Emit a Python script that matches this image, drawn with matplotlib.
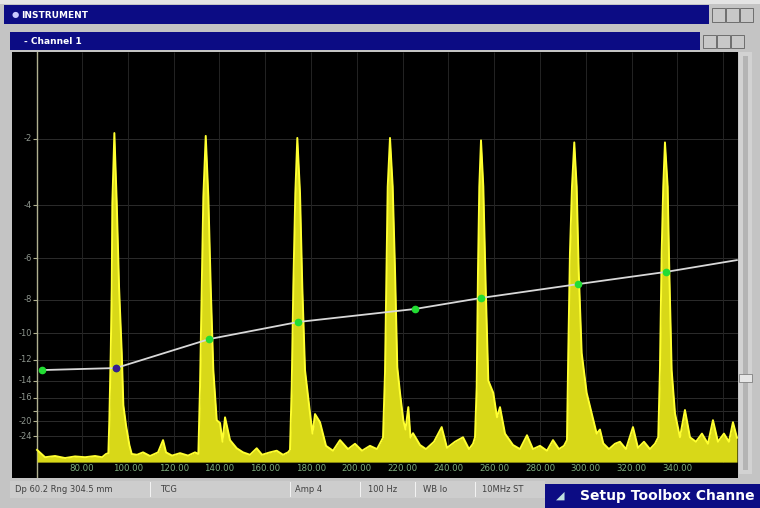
import matplotlib
matplotlib.use("Agg")
import matplotlib.pyplot as plt
from matplotlib.patches import Rectangle

# A-scan trace (depth, linear amplitude)
trace_x = [60.35, 63.84, 68.21, 72.58, 76.94, 81.31, 85.68, 88.73, 90.48,
           91.49, 91.92, 92.53, 92.97, 93.23, 94.11, 95.15, 96.16, 97.34, 98.04, 99.21, 100.66, 101.70,
           104.02, 106.64, 109.70, 113.19, 115.37, 116.68, 119.30, 122.80, 126.29, 129.35,
           130.79, 131.53, 132.27, 132.97, 134.02, 135.16, 136.20, 137.34, 138.82, 140.26, 141.36, 142.45, 144.63, 147.56,
           150.31, 153.37, 156.29, 158.61, 162.10, 165.03, 167.78, 169.96,
           170.83, 171.58, 172.27, 173.15, 174.02, 175.20, 176.20, 177.38, 179.57, 180.66, 181.75, 183.93,
           186.55, 189.61, 192.67, 196.16, 199.22, 202.28, 205.77, 208.83,
           211.45, 212.32, 213.06, 213.50, 214.50, 215.68, 216.69, 217.69, 218.87, 220.31, 221.27, 222.50, 223.46, 224.55, 227.61,
           230.23, 233.72, 237.08, 239.40, 242.89, 246.39, 249.01, 250.76,
           251.63, 252.37, 252.94, 253.51, 254.25, 255.26, 256.30, 257.44, 259.62, 261.24, 262.55, 264.73, 268.23,
           271.27, 274.33, 276.95, 280.01, 283.07, 285.69, 288.31, 290.49,
           291.80, 292.37, 293.11, 293.99, 294.99, 296.04, 296.91, 298.22, 300.40, 302.59, 304.77, 306.21, 307.66,
           310.14, 312.76, 314.94, 317.57, 320.62, 322.81, 325.43, 328.05, 330.23,
           331.67, 332.41, 333.16, 333.85, 334.60, 335.78, 336.48, 337.52, 338.97, 341.15, 343.33, 345.52,
           348.14, 350.76, 353.38, 355.56, 357.74, 360.36, 362.55, 364.30, 366.04]
trace_amp = [0.030, 0.012, 0.015, 0.010, 0.014, 0.012, 0.015, 0.012, 0.020,
             0.022, 0.103, 0.268, 0.430, 0.636, 0.808, 0.636, 0.430, 0.268, 0.140, 0.090, 0.042, 0.020,
             0.018, 0.024, 0.015, 0.024, 0.054, 0.024, 0.016, 0.022, 0.016, 0.024,
             0.020, 0.185, 0.430, 0.651, 0.801, 0.651, 0.430, 0.226, 0.103, 0.096, 0.050, 0.110, 0.054, 0.034,
             0.024, 0.018, 0.034, 0.018, 0.024, 0.028, 0.018, 0.024,
             0.030, 0.185, 0.430, 0.660, 0.796, 0.660, 0.430, 0.226, 0.120, 0.070, 0.118, 0.098,
             0.040, 0.028, 0.054, 0.032, 0.045, 0.028, 0.040, 0.032,
             0.060, 0.219, 0.514, 0.676, 0.796, 0.676, 0.472, 0.233, 0.170, 0.103, 0.080, 0.135, 0.060, 0.071, 0.042,
             0.032, 0.050, 0.086, 0.035, 0.050, 0.061, 0.032, 0.045,
             0.061, 0.185, 0.470, 0.676, 0.790, 0.676, 0.430, 0.200, 0.170, 0.110, 0.135, 0.070, 0.042,
             0.032, 0.066, 0.032, 0.040, 0.028, 0.054, 0.032, 0.040,
             0.054, 0.268, 0.514, 0.676, 0.785, 0.676, 0.472, 0.268, 0.170, 0.120, 0.070, 0.080, 0.046,
             0.032, 0.045, 0.050, 0.032, 0.086, 0.035, 0.050, 0.032, 0.045,
             0.061, 0.226, 0.514, 0.676, 0.785, 0.676, 0.472, 0.226, 0.120, 0.061, 0.128, 0.061,
             0.050, 0.070, 0.045, 0.103, 0.050, 0.070, 0.050, 0.098, 0.060]

# TCG curve points
tcg_x = [62.5, 94.8, 135.5, 174.3, 225.4, 254.2, 296.6, 335.0, 366.0]
tcg_amp = [0.226, 0.231, 0.302, 0.344, 0.376, 0.403, 0.437, 0.467, 0.496]

db_ticks = [-2, -4, -6, -8, -10, -12, -14, -16, -18, -20, -24]
db_labels = ["-2", "-4", "-6", "-8", "-10", "-12", "-14", "-16", "", "-20", "-24"]
depth_ticks = [80, 100, 120, 140, 160, 180, 200, 220, 240, 260, 280, 300, 320, 340]
depth_grid = depth_ticks + [360]

status_fields = ["Dp 60.2 Rng 304.5 mm", "TCG", "Amp 4", "100 Hz", "WB lo", "10MHz ST"]
status_pos = [15, 160, 295, 368, 423, 482]

W, H = 760, 508
NAVY = "#0c0c84"
fig = plt.figure(figsize=(7.6, 5.08), dpi=100, facecolor="#c4c4c4")


def box(x0, y0, x1, y1, color, ec="none", lw=0, z=0):
    fig.patches.append(Rectangle((x0 / W, 1 - y1 / H), (x1 - x0) / W, (y1 - y0) / H,
                                 transform=fig.transFigure, facecolor=color,
                                 edgecolor=ec, lw=lw, zorder=z))


def ftext(x, y, s, **kw):
    fig.text(x / W, 1 - y / H, s, va="center", **kw)


# window chrome
box(0, 0, 760, 4, "#e4e4e4")
box(4, 5, 709, 24, NAVY)
ftext(12, 15, "\u25cf", color="#c8c8ff", fontsize=6)
ftext(21, 15, "INSTRUMENT", color="white", fontsize=6.5, fontweight="bold")
for bx in [712, 726, 740]:
    box(bx, 8, bx + 13, 22, "#c8c8c8", ec="#606060", lw=0.6)
box(10, 32, 700, 50, NAVY)
ftext(24, 41, "- Channel 1", color="white", fontsize=6.5, fontweight="bold")
for bx in [703, 717, 731]:
    box(bx, 35, bx + 13, 48, "#c8c8c8", ec="#606060", lw=0.6)
box(739, 52, 752, 474, "#d2d2d2")
box(743, 56, 748, 470, "#b4b4b4")
box(739, 374, 752, 382, "#e6e6e6", ec="#808080", lw=0.6)
box(10, 481, 545, 498, "#cdcdcd")
for sx in [150, 290, 360, 415, 475]:
    box(sx, 482, sx + 1, 497, "#f2f2f2")
for s, sx in zip(status_fields, status_pos):
    ftext(sx, 489, s, color="#404040", fontsize=6)
box(545, 484, 760, 508, NAVY, z=3)
ftext(556, 496, "\u25e2", color="#c0e0e0", fontsize=8, zorder=4)
ftext(580, 496, "Setup Toolbox Channe", color="white", fontsize=10, fontweight="bold", zorder=4)

# scope panel
ax = fig.add_axes([12 / W, 1 - 478 / H, 726 / W, 426 / H])
ax.set_facecolor("black")
ax.set_xlim(49.4, 366.5)
ax.set_ylim(-0.039, 1.007)
ax.set_xticks([])
ax.set_yticks([])
for sp in ax.spines.values():
    sp.set_visible(False)

axis_x = 60.35
db_pos = [10 ** (d / 20) for d in db_ticks]
ax.hlines(db_pos, axis_x, 366.5, color="#2c2c2c", lw=0.7, zorder=1)
ax.vlines(depth_grid, 0, 1.007, color="#242424", lw=0.7, zorder=1)
ax.axvline(axis_x, color="#b0b090", lw=1.0, zorder=2)
ax.hlines(db_pos, axis_x - 1.6, axis_x, color="#b0b090", lw=0.8, zorder=2)
for p, lab in zip(db_pos, db_labels):
    ax.text(axis_x - 2.2, p, lab, ha="right", va="center", fontsize=6, color="#8e968e")
for d in depth_ticks:
    ax.text(d, -0.016, f"{d:.2f}", ha="center", va="center", fontsize=6.2, color="#7fae7f")

ax.fill_between(trace_x, 0, trace_amp, color="#d8d818", lw=0, zorder=3)
ax.plot(trace_x, trace_amp, color="#ffff30", lw=1.4, zorder=4)

ax.plot(tcg_x, tcg_amp, color="#d8d8d8", lw=1.3, zorder=5)
ax.plot(tcg_x[:8], tcg_amp[:8], "o", color="#22dd33", ms=4.5, zorder=6)
ax.plot(tcg_x[1], tcg_amp[1], "o", color="#3a1a90", ms=4.5, zorder=7)

fig.savefig("out.png", dpi=100, facecolor=fig.get_facecolor())
